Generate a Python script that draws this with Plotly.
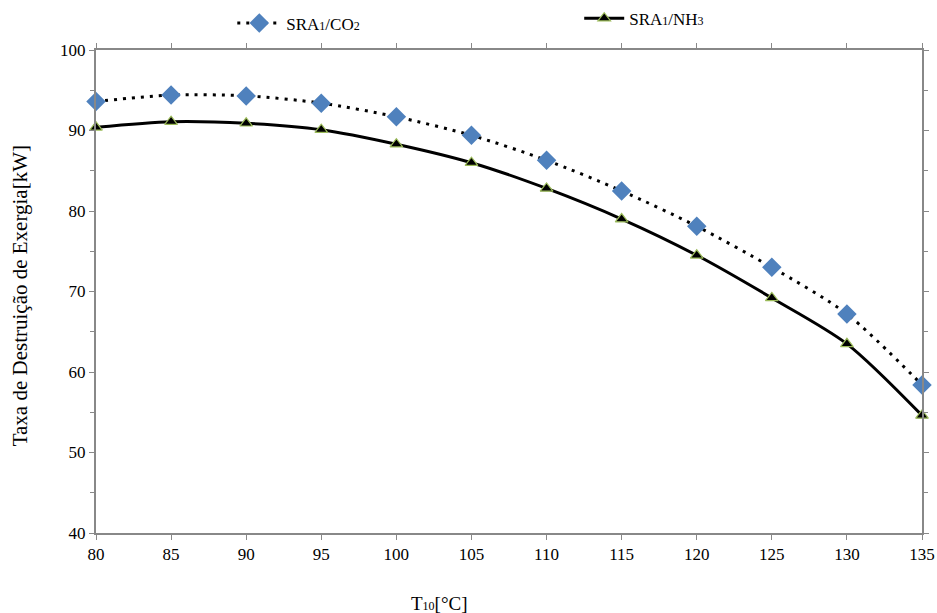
import plotly.graph_objects as go

T10 = [80, 85, 90, 95, 100, 105, 110, 115, 120, 125, 130, 135]
sra1_co2 = [93.6, 94.4, 94.3, 93.4, 91.7, 89.4, 86.3, 82.5, 78.1, 73.0, 67.2, 58.4]
sra1_nh3 = [90.4, 91.1, 90.9, 90.1, 88.3, 86.0, 82.8, 79.0, 74.5, 69.2, 63.5, 54.6]

FONT = "Liberation Serif, Times New Roman, serif"
sm = "<span style='font-size:12px'>"

fig = go.Figure()
fig.add_trace(go.Scatter(
    x=T10, y=sra1_co2, mode="lines+markers", name="SRA" + sm + "1</span>/CO" + sm + "2</span>",
    line=dict(color="black", width=3, dash="3px,6px", shape="spline", smoothing=0.8),
    marker=dict(symbol="diamond", size=15, color="#4F81BD", line=dict(width=0)),
    cliponaxis=False, legend="legend"))
fig.add_trace(go.Scatter(
    x=T10, y=sra1_nh3, mode="lines+markers", name="SRA" + sm + "1</span>/NH" + sm + "3</span>",
    line=dict(color="black", width=3, shape="spline", smoothing=0.8),
    marker=dict(symbol="triangle-up", size=11, color="black", line=dict(width=1.2, color="#9BBB59")),
    cliponaxis=False, legend="legend2"))

axis_common = dict(showline=True, linecolor="#888888", linewidth=2, mirror="ticks",
                   ticks="outside", ticklen=5, tickcolor="#888888", showgrid=False,
                   zeroline=False, tickfont=dict(family=FONT, size=17, color="black"))

fig.update_xaxes(range=[80, 135], dtick=5, tick0=80, **axis_common)
fig.update_yaxes(range=[40, 100], dtick=10, tick0=40,
                 minor=dict(dtick=5, ticks="outside", ticklen=4, tickcolor="#888888"),
                 **axis_common)

fig.update_layout(
    width=937, height=613,
    margin=dict(l=96, r=15, t=50, b=80, autoexpand=False),
    paper_bgcolor="white", plot_bgcolor="white",
    font=dict(family=FONT, size=16, color="black"),
    showlegend=True,
    legend=dict(x=0.165, y=1.055, xanchor="left", yanchor="middle", bgcolor="rgba(0,0,0,0)",
                font=dict(family=FONT, size=17), itemwidth=44),
    legend2=dict(x=0.585, y=1.065, xanchor="left", yanchor="middle", bgcolor="rgba(0,0,0,0)",
                 font=dict(family=FONT, size=17), itemwidth=40),
    annotations=[
        dict(text="T" + sm + "10</span>[°C]", xref="paper", yref="paper", x=0.416, y=0,
             yshift=-70, showarrow=False, xanchor="center", yanchor="middle",
             font=dict(family=FONT, size=19)),
        dict(text="Taxa de Destruição de Exergia[kW]", xref="paper", yref="paper", x=0, y=0.49,
             xshift=-76, textangle=-90, showarrow=False, xanchor="center", yanchor="middle",
             font=dict(family=FONT, size=21)),
    ],
)

fig.write_html("out.html")
